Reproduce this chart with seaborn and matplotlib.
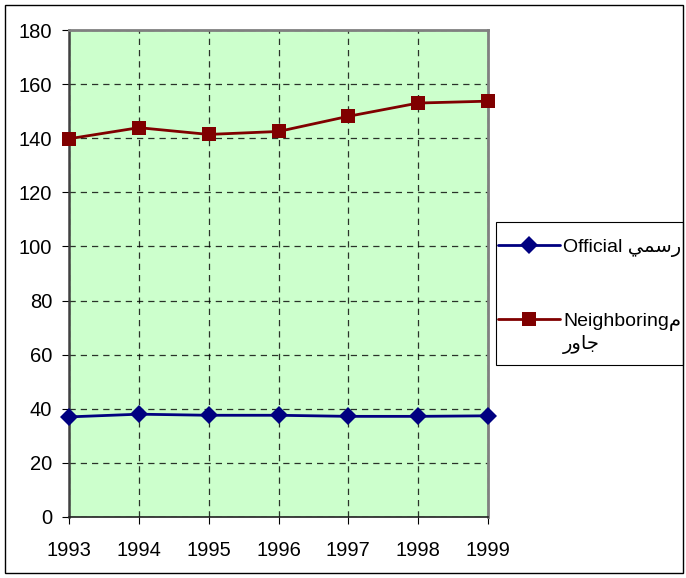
import seaborn as sns
import matplotlib.pyplot as plt
import matplotlib.patches as patches
import pandas as pd

# values
years = [1993, 1994, 1995, 1996, 1997, 1998, 1999]
official = [37.0, 38.0, 37.6, 37.6, 37.2, 37.2, 37.4]
neighboring = [139.8, 143.9, 141.4, 142.5, 148.1, 153.0, 153.7]

# Arabic in presentation forms, visual order
label_official = "Official \uFEF2\uFEE4\uFEB3\uFEAD"
label_neighbor = "Neighboring\uFEE1"
label_neighbor_2 = "\uFEAD\uFEED\uFE8E\uFE9F"

df = pd.DataFrame({
    'year': years * 2,
    'value': official + neighboring,
    'series': [label_official] * len(years) + [label_neighbor] * len(years),
})

sns.set_style("white")
plt.rcParams['font.family'] = ['Liberation Sans', 'DejaVu Sans']
plt.rcParams['text.color'] = 'black'
plt.rcParams['xtick.color'] = 'black'
plt.rcParams['ytick.color'] = 'black'

fig = plt.figure(figsize=(6.86, 5.78), dpi=100)
ax = fig.add_axes([69 / 686, 1 - 517 / 578, 419 / 686, 487 / 578])
ax.set_facecolor('#CCFFCC')

sns.lineplot(data=df[df.series == label_official], x='year', y='value',
             color='#000080', marker='D', markersize=9, markeredgewidth=0,
             linewidth=2, label=label_official, ax=ax, clip_on=False, zorder=3)
sns.lineplot(data=df[df.series == label_neighbor], x='year', y='value',
             color='#800000', marker='s', markersize=10, markeredgewidth=0,
             linewidth=2, label=label_neighbor, ax=ax, clip_on=False, zorder=3)

ax.set_xlim(1993, 1999)
ax.set_ylim(0, 180)
ax.set_xticks(years)
ax.set_yticks(range(0, 181, 20))
ax.set_xlabel('')
ax.set_ylabel('')
ax.tick_params(axis='both', labelsize=14.5, length=5, direction='out',
               color='black', left=True, bottom=True)
ax.tick_params(axis='x', pad=12)
ax.tick_params(axis='y', pad=7)
ax.grid(True, color='black', linestyle=(0, (5, 4)), linewidth=0.9, alpha=0.8)

for s in ['top', 'right']:
    ax.spines[s].set_color('#808080')
    ax.spines[s].set_linewidth(2)
ax.spines['left'].set_color('#404040')
ax.spines['left'].set_linewidth(1.8)
ax.spines['bottom'].set_color('#202020')
ax.spines['bottom'].set_linewidth(1.2)

leg = ax.legend(loc='upper left', bbox_to_anchor=(496 / 686, 1 - 236 / 578),
                bbox_transform=fig.transFigure, fontsize=14, frameon=False,
                handlelength=3.2, labelspacing=2.85, borderpad=0.1,
                handletextpad=0.15, borderaxespad=0)
fig.text(563 / 686, 1 - 345 / 578, label_neighbor_2, fontsize=14,
         ha='left', va='center')

# legend box and outer chart border
fig.patches.append(patches.Rectangle((496 / 686, 1 - 365 / 578), 187 / 686, 143 / 578,
                                     transform=fig.transFigure, fill=False,
                                     edgecolor='black', linewidth=0.8))
fig.patches.append(patches.Rectangle((5 / 686, 5 / 578), 678 / 686, 568 / 578,
                                     transform=fig.transFigure, fill=False,
                                     edgecolor='black', linewidth=1))

fig.savefig('out.png', dpi=100)
